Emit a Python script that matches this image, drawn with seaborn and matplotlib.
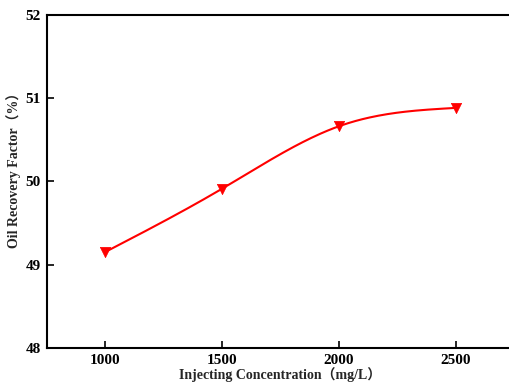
import numpy as np
import pandas as pd
import matplotlib
matplotlib.use("Agg")
import matplotlib.pyplot as plt
import seaborn as sns

# Measured data
concentration = [1000, 1500, 2000, 2500]          # mg/L
recovery = [49.15, 49.91, 50.66, 50.88]            # %
x_ticks = [1000, 1500, 2000, 2500]
y_ticks = [48, 49, 50, 51, 52]


def natural_cubic_spline(x, y, n=200):
    """Smooth curve through the measured points (natural cubic spline)."""
    x = np.asarray(x, float)
    y = np.asarray(y, float)
    k = len(x)
    h = np.diff(x)
    A = np.zeros((k, k))
    b = np.zeros(k)
    A[0, 0] = A[-1, -1] = 1.0
    for i in range(1, k - 1):
        A[i, i - 1] = h[i - 1]
        A[i, i] = 2 * (h[i - 1] + h[i])
        A[i, i + 1] = h[i]
        b[i] = 6 * ((y[i + 1] - y[i]) / h[i] - (y[i] - y[i - 1]) / h[i - 1])
    m = np.linalg.solve(A, b)
    xs = np.linspace(x[0], x[-1], n)
    idx = np.clip(np.searchsorted(x, xs) - 1, 0, k - 2)
    x0, x1 = x[idx], x[idx + 1]
    hh = x1 - x0
    t0, t1 = x1 - xs, xs - x0
    ys = (m[idx] * t0 ** 3 + m[idx + 1] * t1 ** 3) / (6 * hh) \
        + (y[idx] / hh - m[idx] * hh / 6) * t0 \
        + (y[idx + 1] / hh - m[idx + 1] * hh / 6) * t1
    return xs, ys


sns.set_style("ticks")
plt.rcParams["font.family"] = ["Liberation Serif", "Noto Sans CJK SC"]
plt.rcParams["font.weight"] = "bold"

points = pd.DataFrame({"conc": concentration, "rec": recovery})
xs, ys = natural_cubic_spline(concentration, recovery)
curve = pd.DataFrame({"conc": xs, "rec": ys})

fig = plt.figure(figsize=(5.09, 3.85), dpi=100)
ax = fig.add_axes([46.5 / 509, 37 / 385, 468 / 509, 333.5 / 385])

sns.lineplot(data=curve, x="conc", y="rec", ax=ax, color="#ff0000",
             linewidth=1.5, sort=False)
sns.scatterplot(data=points, x="conc", y="rec", ax=ax, marker="v",
                color="#ff0000", s=55, edgecolor="#ff0000", linewidth=0.5,
                zorder=3)

ax.set_xlim(750, 2750)
ax.set_ylim(48, 52)
ax.set_xticks(x_ticks)
ax.set_yticks(y_ticks)
ax.tick_params(direction="in", length=5, width=1.2, labelsize=11,
               colors="black", pad=4)
for lbl in ax.get_xticklabels() + ax.get_yticklabels():
    lbl.set_fontweight("bold")

ax.set_xlabel("Injecting Concentration（mg/L）", fontsize=10,
              fontweight="bold", labelpad=0)
ax.set_ylabel("Oil Recovery Factor（%）", fontsize=10, fontweight="bold")
ax.yaxis.set_label_coords(-0.055, 0.542)

for side in ["left", "bottom", "top", "right"]:
    ax.spines[side].set_linewidth(1.5)
    ax.spines[side].set_color("black")

fig.savefig("out.png", dpi=100)
